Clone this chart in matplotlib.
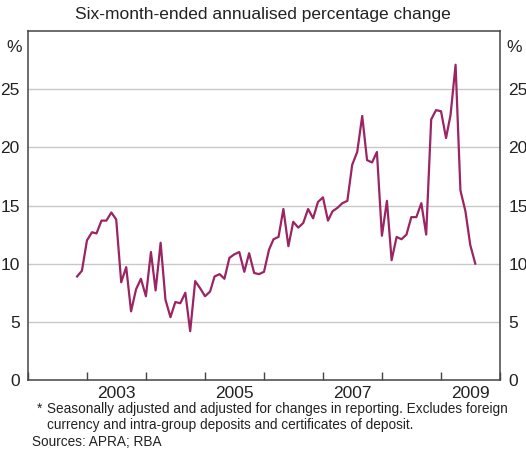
import matplotlib
matplotlib.use("Agg")
import matplotlib.pyplot as plt
import matplotlib.dates as mdates
import numpy as np
import pandas as pd

plt.rcParams['font.family'] = ['Liberation Sans', 'DejaVu Sans']

# Monthly series, Nov 2002 - Aug 2009
start_month = "2002-11-01"
growth = [
    8.9, 9.4, 12.0, 12.7, 12.6, 13.7, 13.7, 14.4, 13.8, 8.4,
    9.7, 5.9, 7.8, 8.7, 7.2, 11.0, 7.7, 11.8, 6.9, 5.4,
    6.7, 6.6, 7.5, 4.2, 8.5, 7.9, 7.2, 7.6, 8.9, 9.1,
    8.7, 10.5, 10.8, 11.0, 9.3, 10.9, 9.2, 9.1, 9.3, 11.2,
    12.1, 12.3, 14.7, 11.5, 13.6, 13.1, 13.5, 14.7, 13.9, 15.3,
    15.7, 13.7, 14.5, 14.8, 15.2, 15.4, 18.5, 19.6, 22.7, 18.9,
    18.7, 19.6, 12.4, 15.4, 10.3, 12.3, 12.1, 12.5, 14.0, 14.0,
    15.2, 12.5, 22.4, 23.2, 23.1, 20.8, 22.8, 27.1, 16.3, 14.5,
    11.6, 10.0,
]
dates = pd.date_range(start_month, periods=len(growth), freq="MS")

y_ticks = [0, 5, 10, 15, 20, 25]
label_years = [2003, 2005, 2007, 2009]

fig = plt.figure(figsize=(5.26, 4.55), dpi=100)
ax = fig.add_axes([28 / 526, 75 / 455, 472 / 526, 349 / 455])

ax.plot(dates, growth, color="#9b2463", linewidth=1.6)

ax.set_xlim(pd.Timestamp("2002-01-01"), pd.Timestamp("2010-01-01"))
ax.set_ylim(0, 30)

# year boundary ticks, labels centred in the year
ax.xaxis.set_major_locator(mdates.YearLocator())
ax.xaxis.set_major_formatter(plt.NullFormatter())
ax.set_xticks([pd.Timestamp(f"{y}-07-02") for y in label_years], minor=True)
ax.set_xticklabels([str(y) for y in label_years], minor=True)
ax.tick_params(axis="x", which="major", direction="in", length=6, width=1, color="#444444")
ax.tick_params(axis="x", which="minor", length=0, pad=4, labelsize=12.5, labelcolor="#222222")

ax.set_yticks(y_ticks)
ax.tick_params(axis="y", length=0, pad=6, labelsize=12.5, labelcolor="#222222",
               labelleft=True, labelright=True)
ax.grid(axis="y", color="#c8c8c8", linewidth=1)
ax.set_axisbelow(True)

for s in ax.spines.values():
    s.set_color("#444444")
    s.set_linewidth(1.1)

ax.text(-0.014, 0.975, "%", transform=ax.transAxes, ha="right", va="top",
        fontsize=12.5, color="#222222")
ax.text(1.014, 0.975, "%", transform=ax.transAxes, ha="left", va="top",
        fontsize=12.5, color="#222222")

fig.text(0.5, 1 - 14 / 455, "Six-month-ended annualised percentage change",
         ha="center", va="center", fontsize=12.5, color="#222222")

foot_size = 9.8
fig.text(37 / 526, 1 - 409 / 455, "*", ha="left", va="center", fontsize=foot_size, color="#222222")
fig.text(47 / 526, 1 - 409 / 455,
         "Seasonally adjusted and adjusted for changes in reporting. Excludes foreign",
         ha="left", va="center", fontsize=foot_size, color="#222222")
fig.text(47 / 526, 1 - 425 / 455,
         "currency and intra-group deposits and certificates of deposit.",
         ha="left", va="center", fontsize=foot_size, color="#222222")
fig.text(32 / 526, 1 - 442 / 455, "Sources: APRA; RBA",
         ha="left", va="center", fontsize=foot_size, color="#222222")

fig.savefig("out.png", dpi=100)
